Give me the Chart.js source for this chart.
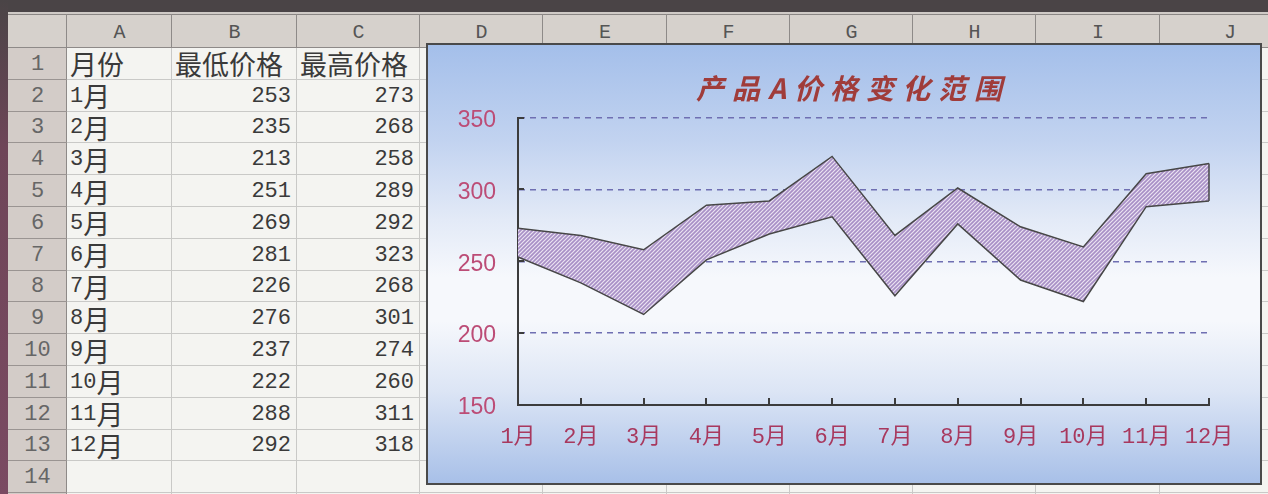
<!DOCTYPE html>
<html><head><meta charset="utf-8">
<script src="https://cdn.jsdelivr.net/npm/chart.js@4.4.1/dist/chart.umd.min.js"></script>
<style>
html,body{margin:0;padding:0;width:1268px;height:494px;overflow:hidden;background:#4a4446;}
#sheet{position:absolute;left:0;top:0;width:1268px;height:494px;}
.b{position:absolute;box-sizing:border-box;}
.t{position:absolute;box-sizing:border-box;white-space:nowrap;overflow:hidden;font-family:'Liberation Mono','Noto Sans CJK SC',monospace;font-size:22px;color:#3a3a3a;display:flex;align-items:center;line-height:1;}
.cj{font-family:'Noto Sans CJK SC';font-size:27px;line-height:1;position:relative;top:-1px;}
#chartBox{position:absolute;left:426px;top:43px;width:836px;height:442px;box-sizing:border-box;border:2px solid #4a4a4a;
 background:linear-gradient(to bottom,#a4bfea 0%,#c2d3f0 22%,#e3eaf7 40%,#f6f8fc 53%,#f6f8fc 63%,#dce5f5 79%,#a8c0e8 100%);}
#c{position:absolute;left:0;top:0;}
</style></head>
<body>
<div id="sheet"></div>
<div id="chartBox"><canvas id="c" width="832" height="438"></canvas></div>
<script>
// ---- data ----
const months = ['1月','2月','3月','4月','5月','6月','7月','8月','9月','10月','11月','12月'];
const minPrices = [253,235,213,251,269,281,226,276,237,222,288,292];
const maxPrices = [273,268,258,289,292,323,268,301,274,260,311,318];
const headers = ['月份','最低价格','最高价格'];
const colLetters = ['A','B','C','D','E','F','G','H','I','J'];
const chartTitle = '产品A价格变化范围';
const yMin = 150, yMax = 350, yStep = 50;

// ---- spreadsheet ----
const sheet = document.getElementById('sheet');
function box(x,y,w,h,css,cls,html){
  const d=document.createElement('div'); d.className=cls||'b';
  d.style.left=x+'px'; d.style.top=y+'px'; d.style.width=w+'px'; d.style.height=h+'px';
  if(css) d.style.cssText+=css; if(html!==undefined) d.innerHTML=html; sheet.appendChild(d); return d;
}
function rich(t){ return String(t).replace(/([\u4e00-\u9fff]+)/g,'<span class="cj">$1</span>'); }
const colEdges=[67,172,297,420,543,667,790,913,1036,1160,1300];
const hdrTop=14, hdrBot=48, rowH=31.8, nRows=14;
box(0,0,1268,494,'background:#4a4446');
box(0,12,1268,2,'background:#cfcac6');
box(0,0,8,494,'background:linear-gradient(to bottom,#4a4446 0%,#6e4558 30%,#7a4a62 100%)');
box(8,hdrTop,1260,hdrBot-hdrTop,'background:#d6d1cc;border-top:1px solid #8a8684;border-bottom:1px solid #8e8a88');
box(8,hdrBot,59,494-hdrBot,'background:#d3ccc8;border-right:1px solid #8e8a88');
box(67,hdrBot,1201,494-hdrBot,'background:#f4f4f1');
box(66,hdrTop,1,hdrBot-hdrTop,'background:#8e8a88');
for(let i=0;i<colLetters.length;i++){
  const x0=colEdges[i], x1=colEdges[i+1];
  box(x1-1,hdrTop,1,hdrBot-hdrTop,'background:#8e8a88');
  box(x0,hdrTop+2,x1-x0,hdrBot-hdrTop,'justify-content:center;font-size:20px;color:#555','t',colLetters[i]);
}
for(let i=1;i<colEdges.length;i++) box(colEdges[i]-1,hdrBot,1,494-hdrBot,'background:#c9c9c7');
for(let r=1;r<=nRows;r++){
  const y=hdrBot+r*rowH;
  box(8,y-1,59,1,'background:#9a9492');
  box(67,y-1,1201,1,'background:#c9c9c7');
  box(8,hdrBot+(r-1)*rowH+1,59,rowH,'justify-content:center;font-size:22px;color:#666','t',String(r));
}
function cell(col,row,text,align){
  const x0=colEdges[col], x1=colEdges[col+1], y=hdrBot+(row-1)*rowH;
  box(x0,y+1,x1-x0,rowH,(align==='left'?'justify-content:flex-start;padding-left:3px':'justify-content:flex-end;padding-right:6px'),'t',rich(text));
}
headers.forEach((h,i)=>cell(i,1,h,'left'));
months.forEach((m,i)=>{ cell(0,i+2,m,'left'); cell(1,i+2,minPrices[i],'right'); cell(2,i+2,maxPrices[i],'right'); });

// ---- chart ----
const canvas=document.getElementById('c');
const ctx=canvas.getContext('2d');
function makeHatch(){
  const s=4, tile=document.createElement('canvas'); tile.width=s; tile.height=s;
  const g=tile.getContext('2d');
  g.fillStyle='#a890c6'; g.fillRect(0,0,s,s);
  g.strokeStyle='#ebe3f2'; g.lineWidth=1.2;
  g.beginPath();
  g.moveTo(0,s); g.lineTo(s,0);
  g.moveTo(-1,1); g.lineTo(1,-1);
  g.moveTo(s-1,s+1); g.lineTo(s+1,s-1);
  g.stroke();
  return ctx.createPattern(tile,'repeat');
}
const hatch=makeHatch();

const decor={
  id:'decor',
  afterInit(chart){
    const tb=chart.titleBlock;
    if(tb && !tb._patched){
      tb.draw=function(){
        const c=this.ctx, o=this.options; if(!o.display) return;
        const f=Chart.helpers.toFont(o.font), pad=Chart.helpers.toPadding(o.padding);
        c.save(); c.font=f.string; c.fillStyle=o.color; c.textBaseline='middle'; c.textAlign='left';
        const chars=[...o.text], gap=8;
        const w=chars.map(ch=>c.measureText(ch).width);
        const total=w.reduce((a,b)=>a+b,0)+gap*(chars.length-1);
        let x=this.chart.width/2-total/2+5;
        const y=this.top+pad.top+f.lineHeight/2;
        chars.forEach((ch,i)=>{ c.fillText(ch,x,y); x+=w[i]+gap; });
        c.restore();
      };
      tb._patched=true;
    }
  },
  afterDraw(chart){
    const c=chart.ctx, xs=chart.scales.x, ys=chart.scales.y, a=chart.chartArea;
    c.save();
    c.strokeStyle='#3c3c3c'; c.lineWidth=2;
    for(let i=1;i<months.length;i++){
      const x=Math.round(xs.getPixelForValue(i));
      c.beginPath(); c.moveTo(x,a.bottom); c.lineTo(x,a.bottom-7); c.stroke();
    }
    for(let v=yMin+yStep; v<=yMax; v+=yStep){
      const y=Math.round(ys.getPixelForValue(v));
      c.beginPath(); c.moveTo(a.left,y); c.lineTo(a.left+6,y); c.stroke();
    }
    const li=months.length-1, xl=xs.getPixelForValue(li);
    c.strokeStyle='#474747'; c.lineWidth=1.5;
    c.beginPath(); c.moveTo(xl,ys.getPixelForValue(minPrices[li])); c.lineTo(xl,ys.getPixelForValue(maxPrices[li])); c.stroke();
    c.restore();
  }
};

const chart=new Chart(canvas,{
  type:'line',
  data:{
    labels:months,
    datasets:[
      {label:headers[1],data:minPrices,borderColor:'#474747',borderWidth:1.5,pointRadius:0,fill:false,tension:0},
      {label:headers[2],data:maxPrices,borderColor:'#474747',borderWidth:1.5,pointRadius:0,fill:'-1',backgroundColor:hatch,tension:0}
    ]
  },
  options:{
    responsive:false,animation:false,devicePixelRatio:1,
    layout:{padding:{left:0,right:51,top:0,bottom:0}},
    plugins:{
      legend:{display:false},tooltip:{enabled:false},
      title:{display:true,text:chartTitle,color:'#a03c3a',
        font:{family:"'Noto Sans CJK SC'",size:28,style:'italic',weight:'bold',lineHeight:1.2},
        padding:{top:27,bottom:12}}
    },
    scales:{
      x:{
        type:'category',offset:false,
        grid:{display:false,drawTicks:false},
        border:{display:true,color:'#3c3c3c',width:2},
        ticks:{autoSkip:false,maxRotation:0,minRotation:0,padding:19,color:'#a8385e',
          font:{family:"'Liberation Mono','Noto Sans CJK SC'",size:22}},
        afterFit(s){ s.height=78; s.paddingLeft=0; s.paddingRight=0; }
      },
      y:{
        min:yMin,max:yMax,
        grid:{drawTicks:false,lineWidth:1.5,color:(c)=>c.tick && c.tick.value===yMin?'rgba(0,0,0,0)':'#6f6fb2'},
        border:{display:true,color:'#3c3c3c',width:2,dash:[6,5]},
        ticks:{stepSize:yStep,padding:22,labelOffset:3,color:'#bc4c76',font:{family:"'Liberation Sans'",size:23}},
        afterFit(s){ s.width=90; s.paddingTop=0; s.paddingBottom=0; }
      }
    }
  },
  plugins:[decor]
});
chart.draw();
</script>
</body></html>
